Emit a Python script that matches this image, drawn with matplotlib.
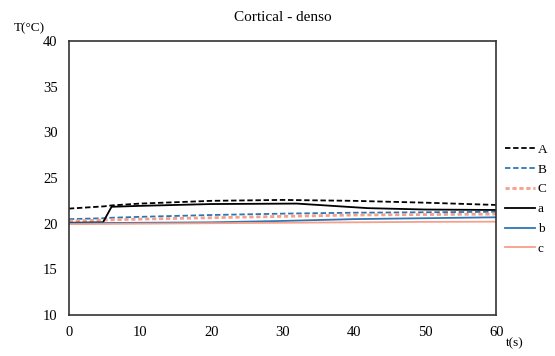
import matplotlib
matplotlib.use('Agg')
import matplotlib.pyplot as plt

t = [0, 5, 6, 10, 20, 30, 40, 50, 60]
A = [21.65, 21.9, 22.0, 22.2, 22.5, 22.6, 22.5, 22.3, 22.05]
B = [20.5, 20.6, 20.65, 20.75, 20.95, 21.1, 21.2, 21.25, 21.3]
C = [20.3, 20.4, 20.42, 20.5, 20.65, 20.8, 20.95, 21.0, 21.05]
t_a = [0, 4.8, 6.0, 10, 20, 32, 42, 50, 60]
a = [20.1, 20.15, 21.85, 21.95, 22.15, 22.2, 21.7, 21.55, 21.5]
b = [20.05, 20.07, 20.08, 20.1, 20.15, 20.3, 20.5, 20.6, 20.7]
c = [19.95, 19.97, 19.98, 20.0, 20.05, 20.1, 20.15, 20.2, 20.22]

plt.rcParams['font.family'] = ['Liberation Serif', 'DejaVu Serif']

blue = '#2e75b6'
salmon = '#f4a08a'

fig = plt.figure(figsize=(5.55, 3.56), dpi=100)
ax = fig.add_axes([0.124, 0.115, 0.77, 0.77])

ax.plot(t, A, color='black', linestyle=(0, (3, 1.5)), linewidth=1.3, label='A')
ax.plot(t, B, color=blue, linestyle=(0, (3, 1.5)), linewidth=1.3, label='B')
ax.plot(t, C, color=salmon, linestyle=(0, (1.5, 1)), linewidth=2.0, label='C')
ax.plot(t_a, a, color='black', linewidth=1.3, label='a')
ax.plot(t, b, color=blue, linewidth=1.3, label='b')
ax.plot(t, c, color=salmon, linewidth=1.3, label='c')

ax.set_xlim(0, 60)
ax.set_ylim(10, 40)
ax.set_xticks(range(0, 61, 10))
ax.set_yticks(range(10, 41, 5))
ax.tick_params(length=0, labelsize=10.5, pad=8)
for s in ax.spines.values():
    s.set_color('#333333')
    s.set_linewidth(1.2)

ax.set_title('Cortical - denso', fontsize=11, pad=14)
fig.text(0.025, 0.905, 'T(°C)', fontsize=9.5, ha='left', va='bottom')
fig.text(0.928, 0.035, 't(s)', fontsize=9.5, ha='center', va='center')

fig.legend(loc='upper left', bbox_to_anchor=(0.9, 0.612), frameon=False,
           fontsize=9.5, handlelength=2.3, handletextpad=0.2,
           labelspacing=0.58, borderaxespad=0)

fig.savefig('out.png', dpi=100)
